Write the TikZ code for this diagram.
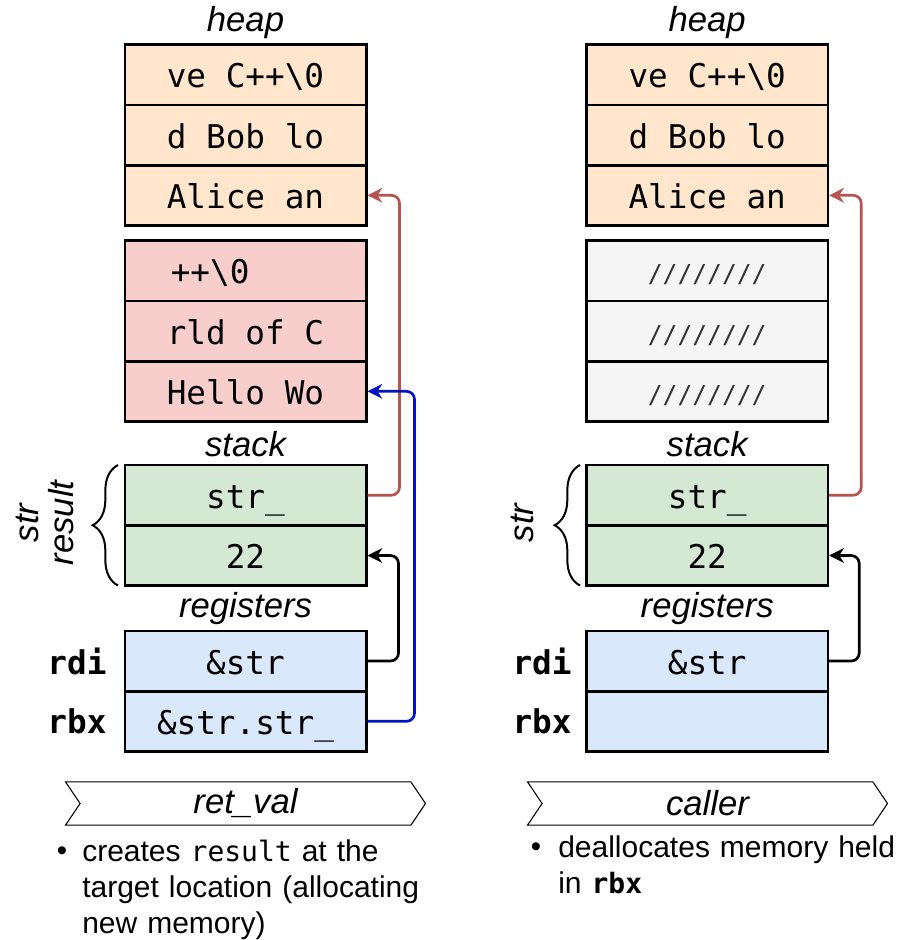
\documentclass[tikz,border=0pt]{standalone}
\usepackage{fontspec}
\setmainfont{Liberation Sans}
\newfontfamily\cellmono{DejaVu Sans Mono}
\usetikzlibrary{arrows.meta,shapes.symbols,decorations.pathreplacing}
\definecolor{heapfill}{HTML}{FFE6CC}
\definecolor{redfill}{HTML}{F8CECC}
\definecolor{greenfill}{HTML}{D5E8D4}
\definecolor{bluefill}{HTML}{DAE8FC}
\definecolor{grayfill}{HTML}{F5F5F5}
\definecolor{redline}{HTML}{B85450}
\definecolor{blueline}{HTML}{0015C0}
\definecolor{slashgray}{HTML}{333333}
\tikzset{
  cell/.style={draw, line width=2pt, minimum width=181pt, minimum height=45.2pt, inner sep=0pt,
    text height=22pt, text depth=2.5pt,
    font=\cellmono\fontsize{24.5}{28}\selectfont},
  slashcell/.style={cell, fill=grayfill, text=slashgray, font=\cellmono\fontsize{18.5}{22}\selectfont,
    text height=19pt, text depth=1pt},
  seclabel/.style={font=\itshape\fontsize{26}{30}\selectfont, inner sep=0pt},
  reglabel/.style={font=\cellmono\bfseries\fontsize{24.5}{28}\selectfont, inner sep=0pt},
  banner/.style={draw, line width=0.8pt, shape=signal, signal to=east, signal from=west,
    signal pointer angle=112, minimum width=270pt, minimum height=32.5pt, inner sep=0pt,
    font=\itshape\fontsize{26}{30}\selectfont},
  conn/.style={line width=2pt, rounded corners=6pt, -{Stealth[length=11pt,width=11pt,inset=3.5pt]}},
  bracestyle/.style={decorate, decoration={brace, amplitude=19pt, aspect=0.5, mirror}, line width=1.5pt},
  bullettext/.style={font=\fontsize{22.5}{27}\selectfont, align=left, anchor=north west, inner sep=0pt, text width=265pt},
}
\begin{document}
\begin{tikzpicture}[x=0.75pt,y=-0.75pt]
\useasboundingbox (0,0) rectangle (908,940);
% ---------- left column ----------
\node[seclabel] (lheap) at (245.5,23) {heap};
\node[cell, fill=heapfill] (lh1) at (245.5,74.7) {ve C++\textbackslash0};
\node[cell, fill=heapfill] (lh2) at (245.5,135) {d Bob lo};
\node[cell, fill=heapfill] (lh3) at (245.5,195.3) {Alice an};
\node[cell, fill=redfill] (lr1) at (245.5,270.7) {\hspace*{6pt}++\textbackslash0\phantom{XXXX}};
\node[cell, fill=redfill] (lr2) at (245.5,331) {rld of C};
\node[cell, fill=redfill] (lr3) at (245.5,391.3) {Hello Wo};
\node[seclabel] (lstack) at (245.5,444) {stack};
\node[cell, fill=greenfill] (ls1) at (245.5,495.2) {str\_};
\node[cell, fill=greenfill] (ls2) at (245.5,555.5) {22};
\node[seclabel] (lregs) at (245.5,609) {registers};
\node[cell, fill=bluefill] (lb1) at (245.5,661) {\&str};
\node[cell, fill=bluefill] (lb2) at (245.5,721.3) {\&str.str\_};
\node[reglabel] (lrdi) at (77,661) {rdi};
\node[reglabel] (lrbx) at (77,721.3) {rbx};
\coordinate (lbt) at (118,465);
\coordinate (lbb) at (118,585.5);
\draw[bracestyle] (lbt) -- (lbb);
\node[font=\itshape\fontsize{26}{26}\selectfont, rotate=90, align=center, inner sep=0pt] (lbl) at (45,523) {str\\result};
\draw[conn, redline] (ls1.east) -- ++(32,0) |- (lh3.east);
\draw[conn, blueline] (lb2.east) -- ++(47,0) |- (lr3.east);
\draw[conn, black] (lb1.east) -- ++(31,0) |- (ls2.east);
\node[banner] (lban) at (245.5,803.5) {ret\_val};
\node[bullettext] (ltext) at (82,839) {creates {\cellmono\fontsize{21}{26}\selectfont result} at the\\target location (allocating\\new memory)};
\node[font=\fontsize{22}{22}\selectfont, inner sep=0pt] (lbul) at (62,854) {•};
% ---------- right column ----------
\node[seclabel] (rheap) at (707.2,23) {heap};
\node[cell, fill=heapfill] (rh1) at (707.2,74.7) {ve C++\textbackslash0};
\node[cell, fill=heapfill] (rh2) at (707.2,135) {d Bob lo};
\node[cell, fill=heapfill] (rh3) at (707.2,195.3) {Alice an};
\node[slashcell] (rr1) at (707.2,270.7) {////////};
\node[slashcell] (rr2) at (707.2,331) {////////};
\node[slashcell] (rr3) at (707.2,391.3) {////////};
\node[seclabel] (rstack) at (707.2,444) {stack};
\node[cell, fill=greenfill] (rs1) at (707.2,495.2) {str\_};
\node[cell, fill=greenfill] (rs2) at (707.2,555.5) {22};
\node[seclabel] (rregs) at (707.2,609) {registers};
\node[cell, fill=bluefill] (rb1) at (707.2,661) {\&str};
\node[cell, fill=bluefill] (rb2) at (707.2,721.3) {};
\node[reglabel] (rrdi) at (542,661) {rdi};
\node[reglabel] (rrbx) at (542,721.3) {rbx};
\coordinate (rbt) at (580,465);
\coordinate (rbb) at (580,585.5);
\draw[bracestyle] (rbt) -- (rbb);
\node[font=\itshape\fontsize{26}{26}\selectfont, rotate=90, inner sep=0pt] (rbl) at (522,523) {str};
\draw[conn, redline] (rs1.east) -- ++(32,0) |- (rh3.east);
\draw[conn, black] (rb1.east) -- ++(30,0) |- (rs2.east);
\node[banner] (rban) at (707.5,803.5) {caller};
\node[bullettext] (rtext) at (558,835) {deallocates memory held\\in {\cellmono\bfseries\fontsize{21}{26}\selectfont rbx}};
\node[font=\fontsize{22}{22}\selectfont, inner sep=0pt] (rbul) at (536,850) {•};
\end{tikzpicture}
\end{document}
